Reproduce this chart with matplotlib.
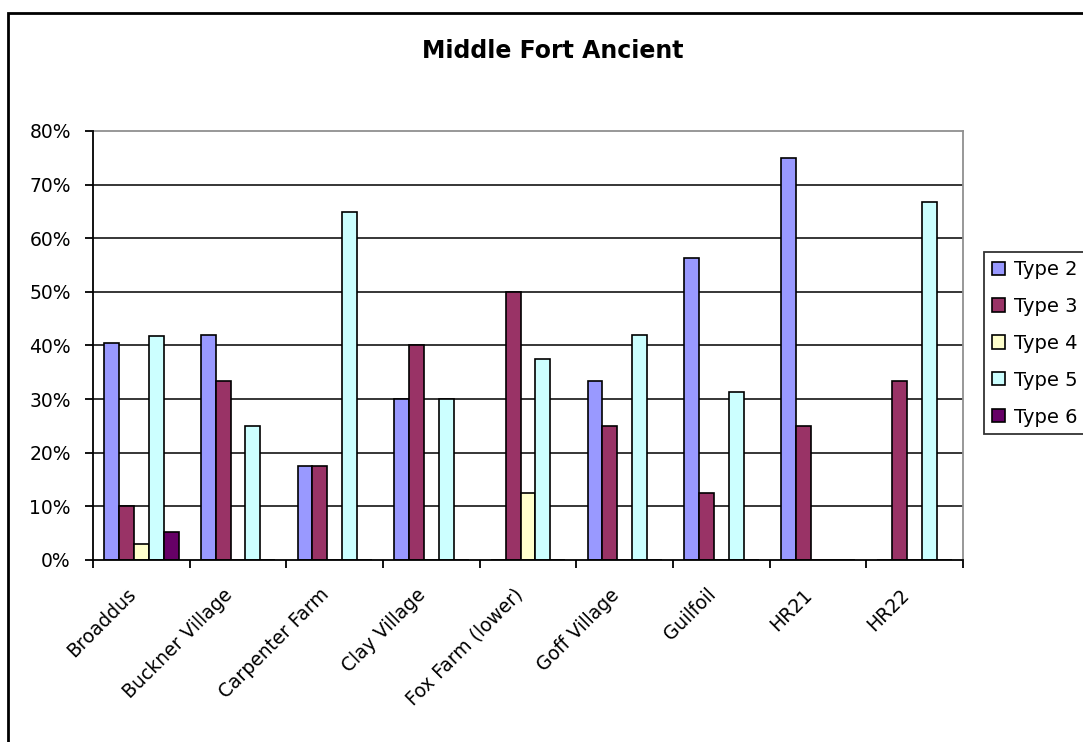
import numpy as np
import matplotlib.pyplot as plt
from matplotlib.patches import Rectangle
from matplotlib.transforms import ScaledTranslation

plt.rcParams['font.family'] = ['DejaVu Sans']

# -------------------------------------------------------
# Data (percent of each type per site)
sites = ['Broaddus', 'Buckner Village', 'Carpenter Farm', 'Clay Village',
         'Fox Farm (lower)', 'Goff Village', 'Guilfoil', 'HR21', 'HR22']
type_2 = [40.5, 42.0, 17.6, 30.0, 0.0, 33.3, 56.3, 75.0, 0.0]
type_3 = [10.0, 33.3, 17.6, 40.0, 50.0, 25.0, 12.5, 25.0, 33.3]
type_4 = [3.0, 0.0, 0.0, 0.0, 12.5, 0.0, 0.0, 0.0, 0.0]
type_5 = [41.7, 25.0, 64.9, 30.0, 37.5, 42.0, 31.25, 0.0, 66.7]
type_6 = [5.2, 0.0, 0.0, 0.0, 0.0, 0.0, 0.0, 0.0, 0.0]

series_names = ['Type 2', 'Type 3', 'Type 4', 'Type 5', 'Type 6']
series_values = [type_2, type_3, type_4, type_5, type_6]
series_colors = ['#9999FF', '#993366', '#FFFFCC', '#CCFFFF', '#660066']
y_ticks = [0, 10, 20, 30, 40, 50, 60, 70, 80]

# -------------------------------------------------------
fig = plt.figure(figsize=(10.83, 7.42), dpi=100)
ax = fig.add_axes([0.0859, 0.2453, 0.8033, 0.5782])

# Excel style: 150% gap width -> bar width = 1 / 6.5
n = len(series_names)
bar_w = 1 / 6.5
x = np.arange(len(sites))
for i, (name, vals, col) in enumerate(zip(series_names, series_values, series_colors)):
    offset = (i - (n - 1) / 2) * bar_w
    ax.bar(x + offset, vals, width=bar_w, color=col, edgecolor='black',
           linewidth=1.2, label=name, zorder=3)

ax.set_xlim(-0.5, len(sites) - 0.5)
ax.set_ylim(0, 80)

# Gridlines
for v in y_ticks[1:-1]:
    ax.axhline(v, color='black', linewidth=1.1, zorder=1)

# Spines
ax.spines['left'].set_color('black')
ax.spines['bottom'].set_color('black')
ax.spines['top'].set_color('#909090')
ax.spines['right'].set_color('#909090')
for s in ax.spines.values():
    s.set_linewidth(1.3)
ax.spines['left'].set_zorder(4)
ax.spines['bottom'].set_zorder(4)

# Y axis
ax.set_yticks(y_ticks)
ax.set_yticklabels([f'{v}%' for v in y_ticks])
ax.tick_params(axis='y', direction='out', length=6, width=1.3, pad=10,
               labelsize=13.5, colors='black')

# X axis: labels at centres, tick marks at boundaries
ax.set_xticks(x)
ax.set_xticklabels(sites, rotation=45, ha='right', rotation_mode='anchor')
ax.set_xticks(np.arange(len(sites) + 1) - 0.5, minor=True)
ax.tick_params(axis='x', which='major', length=0, pad=18, labelsize=13.5)
ax.tick_params(axis='x', which='minor', direction='out', length=6, width=1.3)
shift = ScaledTranslation(-0.15, 0, fig.dpi_scale_trans)
for lab in ax.get_xticklabels():
    lab.set_transform(lab.get_transform() + shift)

# Title
fig.text(0.51, 0.931, 'Middle Fort Ancient', ha='center', va='center',
         fontsize=17, fontweight='bold')

# Legend
leg = fig.legend(loc='upper left', bbox_to_anchor=(0.9086, 0.6604),
                 borderaxespad=0, fontsize=14, frameon=True, fancybox=False,
                 edgecolor='black', handlelength=0.67, handleheight=0.67,
                 handletextpad=0.46, labelspacing=0.92, borderpad=0.41)
leg.get_frame().set_linewidth(1.3)

# Outer chart border (runs off the right and bottom edges)
fig.patches.append(Rectangle((0.0074, -0.1), 1.2, 0.1 + 0.9825,
                             transform=fig.transFigure, fill=False,
                             edgecolor='black', linewidth=2))

fig.savefig('out.png', dpi=100)
